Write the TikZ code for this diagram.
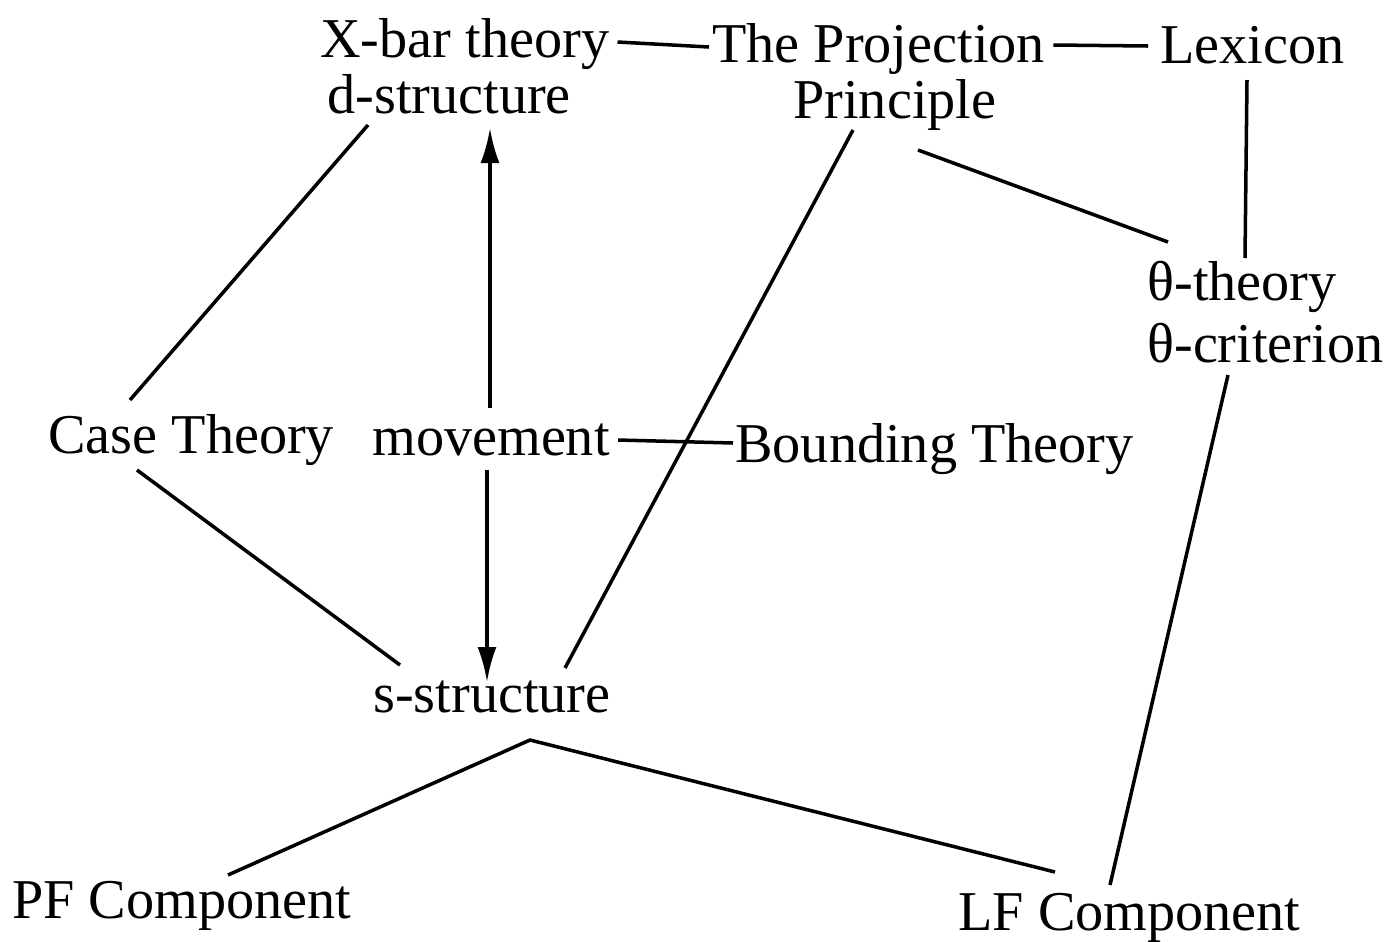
\documentclass[tikz,border=0pt]{standalone}
\usepackage{fontspec}
\setmainfont{Liberation Serif}
\usetikzlibrary{calc,arrows.meta}
\begin{document}
\begin{tikzpicture}[x=0.02cm,y=-0.02cm,
  lbl/.style={anchor=base west,inner sep=0pt,font=\fontsize{32}{36}\selectfont},
  conn/.style={line width=2pt},
  arr/.style={line width=2pt,-{Latex[length=0.7cm,width=0.38cm]}}]
\useasboundingbox (0,0) rectangle (1390,941);
\node[lbl] (xbar) at (320,57) {X-bar theory};
\node[lbl] (dstr) at (327,113) {d-structure};
\node[lbl] (proj) at (712,62) {The Projection};
\node[lbl] (princ) at (793,118) {Principle};
\node[lbl] (lex) at (1160,63) {Lexicon};
\node[lbl] (theta) at (1147,300) {θ-theory};
\node[lbl] (thetac) at (1147,362) {θ-criterion};
\node[lbl] (case) at (48,453) {Case Theory};
\node[lbl] (move) at (372,455) {movement};
\node[lbl] (bound) at (735,462) {Bounding Theory};
\node[lbl] (sstr) at (373,712) {s-structure};
\node[lbl] (pf) at (12,918) {PF Component};
\node[lbl] (lf) at (958,930) {LF Component};
\coordinate (apex) at ($(sstr.base west)+(157,28)$);

\draw[conn] ($(xbar.base east)+(8,-15)$) -- ($(proj.base west)+(-3,-15)$);
\draw[conn] ($(proj.base east)+(8,-17)$) -- ($(lex.base west)+(-12,-17)$);
\draw[conn] ($(lex.base west)+(87,17)$) -- ($(theta.base west)+(98,-42)$);
\draw[conn] ($(princ.base west)+(125,32)$) -- ($(theta.base west)+(21,-58)$);
\draw[conn] ($(dstr.base west)+(41,12)$) -- ($(case.base west)+(82,-53)$);
\draw[conn] ($(princ.base west)+(60,12)$) -- ($(sstr.base west)+(192,-44)$);
\draw[conn] ($(move.base east)+(8,-15)$) -- ($(bound.base west)+(-2,-19)$);
\draw[conn] ($(case.base west)+(89,17)$) -- ($(sstr.base west)+(27,-47)$);
\draw[arr] ($(move.base west)+(118,-47)$) -- ($(dstr.base west)+(163,15)$);
\draw[arr] ($(move.base west)+(115,15)$) -- ($(sstr.base west)+(114,-30)$);
\draw[conn] ($(pf.base west)+(216,-43)$) -- (apex) -- ($(lf.base west)+(97,-58)$);
\draw[conn] ($(thetac.base west)+(81,13)$) -- ($(lf.base west)+(152,-45)$);
\end{tikzpicture}
\end{document}
